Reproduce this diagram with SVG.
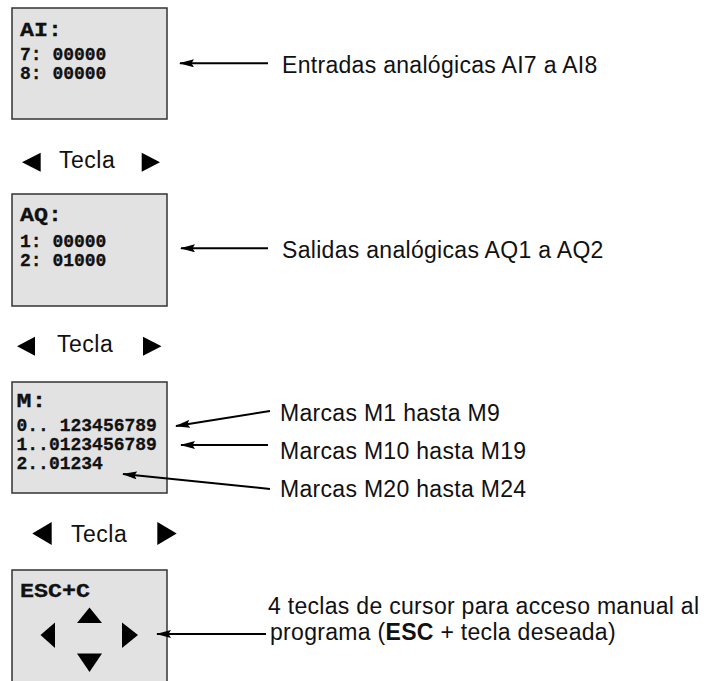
<svg xmlns="http://www.w3.org/2000/svg" width="716" height="681" viewBox="0 0 716 681">
<style>
.box{fill:#e2e2e2;stroke:#333;stroke-width:1.5}
.mono{font-family:"Courier New","Liberation Mono",monospace;font-weight:bold;font-size:18px;fill:#111;stroke:#111;stroke-width:0.3}
.head{font-size:20px}
.lbl{font-family:"Liberation Sans",Arial,Helvetica,sans-serif;font-size:23px;letter-spacing:0.3px;fill:#111}
.key{font-family:"Liberation Sans",Arial,Helvetica,sans-serif;font-size:23px;letter-spacing:0.5px;fill:#111}
.tri{fill:#000}
.conn{stroke:#000;stroke-width:2;fill:none;marker-end:url(#ah)}
</style>
<defs>
<marker id="ah" viewBox="0 0 15 8" refX="14" refY="4" markerWidth="15" markerHeight="8" markerUnits="userSpaceOnUse" orient="auto">
<path d="M0,0 L15,4 L0,8 L2.5,4 z" fill="#000"/>
</marker>
</defs>
<rect width="716" height="681" fill="#fff"/>

<g id="display-ai">
<rect class="box" x="12" y="8" width="155" height="111"/>
<text class="mono head" x="20" y="36" textLength="42" lengthAdjust="spacingAndGlyphs">AI:</text>
<text class="mono" x="20" y="60">7: 00000</text>
<text class="mono" x="20" y="79">8: 00000</text>
</g>

<g id="label-ai"><text class="lbl" x="282" y="73.3">Entradas analógicas AI7 a AI8</text></g>

<g id="key-row-1">
<polygon class="tri" points="40.7,152.7 40.7,171.7 22,162.2"/>
<text class="key" x="59" y="168">Tecla</text>
<polygon class="tri" points="141.7,152.7 141.7,171.7 160,162.2"/>
</g>

<g id="display-aq">
<rect class="box" x="12" y="194" width="155" height="112"/>
<text class="mono head" x="20" y="221" textLength="42" lengthAdjust="spacingAndGlyphs">AQ:</text>
<text class="mono" x="20" y="246.5">1: 00000</text>
<text class="mono" x="20" y="266">2: 01000</text>
</g>

<g id="label-aq"><text class="lbl" x="282" y="258.3">Salidas analógicas AQ1 a AQ2</text></g>

<g id="key-row-2">
<polygon class="tri" points="35,336.7 35,355.7 17,346.2"/>
<text class="key" x="57" y="352">Tecla</text>
<polygon class="tri" points="143,336.7 143,355.7 161.5,346.2"/>
</g>

<g id="display-m">
<rect class="box" x="12" y="382" width="155" height="111"/>
<text class="mono head" x="16.5" y="406.5" textLength="30" lengthAdjust="spacingAndGlyphs">M:</text>
<text class="mono" x="16.5" y="431">0.. 123456789</text>
<text class="mono" x="16.5" y="450">1..0123456789</text>
<text class="mono" x="16.5" y="469">2..01234</text>
</g>

<g id="label-m1"><text class="lbl" x="280" y="420.7">Marcas M1 hasta M9</text></g>
<g id="label-m10"><text class="lbl" x="280" y="459">Marcas M10 hasta M19</text></g>
<g id="label-m20"><text class="lbl" x="280" y="496.7">Marcas M20 hasta M24</text></g>

<g id="key-row-3">
<polygon class="tri" points="51.7,522 51.7,545 32.3,533.5"/>
<text class="key" x="71" y="541.5">Tecla</text>
<polygon class="tri" points="157.3,522 157.3,545 176.7,533.5"/>
</g>

<g id="display-esc">
<rect class="box" x="12" y="570" width="155" height="130"/>
<text class="mono head" x="20" y="597" textLength="70" lengthAdjust="spacingAndGlyphs">ESC+C</text>
<polygon class="tri" points="89.5,607.5 77,623 102,623"/>
<polygon class="tri" points="40.5,635 55,622.5 55,648"/>
<polygon class="tri" points="138,635 122,622.5 122,648"/>
<polygon class="tri" points="77,653.5 102,653.5 89.5,672"/>
</g>

<g id="label-esc">
<text class="lbl" x="268" y="614">4 teclas de cursor para acceso manual al</text>
<text class="lbl" x="270" y="640">programa (<tspan font-weight="bold">ESC</tspan> + tecla deseada)</text>
</g>

<g id="connectors">
<path class="conn" d="M268,63.3 L180,63.3"/>
<path class="conn" d="M268,248.3 L181,248.3"/>
<path class="conn" d="M270,411 L176,426"/>
<path class="conn" d="M268,445 L181,445"/>
<path class="conn" d="M270,489 L123,474"/>
<path class="conn" d="M266,634 L157,634"/>
</g>
</svg>
